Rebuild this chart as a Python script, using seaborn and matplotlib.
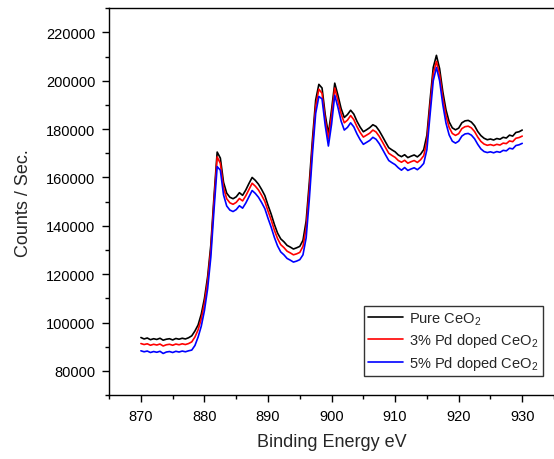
import numpy as np
import pandas as pd
import matplotlib
matplotlib.use("Agg")
import matplotlib.pyplot as plt
from matplotlib.ticker import MultipleLocator
import seaborn as sns

energy = np.arange(870.0, 930.001, 0.5)

pure = [93800, 93200, 93600, 92900, 93300, 93000, 93500, 92700, 93100, 93300,
        92800, 93400, 93100, 93500, 93200, 93700, 94500, 96500, 99000, 103500,
        110000, 119000, 132000, 152000, 170500, 168000, 158000, 153500, 151800, 151200,
        152000, 153700, 152600, 154800, 157500, 160000, 158800, 157200, 155000, 152500,
        148500, 144800, 140600, 137000, 134600, 133400, 131900, 131200, 130400, 130900,
        131500, 134000, 142000, 158000, 176000, 192000, 198500, 197000, 186000, 178000,
        188000, 199000, 194000, 188500, 184800, 186000, 187800, 186200, 183200, 180800,
        178900, 179700, 180600, 181800, 181100, 179300, 177000, 174600, 172300, 171400,
        170600, 169300, 168600, 169400, 168200, 168800, 169300, 168500, 169600, 171500,
        177500, 192000, 205500, 210500, 205000, 195500, 188000, 183000, 180500, 179700,
        180400, 182600, 183400, 183600, 182900, 181400, 179000, 177300, 176200, 175600,
        175900, 175500, 176100, 175800, 176600, 176300, 177500, 177100, 178600, 178900,
        179600]

pd3 = [91300, 90900, 91200, 90600, 91000, 90700, 91100, 90300, 90800, 91000,
       90600, 91100, 90800, 91200, 90900, 91300, 92000, 94000, 97000, 101500,
       108000, 117000, 130000, 150000, 168500, 165800, 155800, 151200, 149500, 148900,
       149700, 151300, 150300, 152400, 155000, 157600, 156400, 154800, 152600, 150100,
       146100, 142400, 138200, 134700, 132200, 131000, 129500, 128800, 128000, 128400,
       129000, 131500, 139000, 155000, 173500, 189500, 196500, 194800, 183800, 175900,
       185500, 197000, 191800, 186300, 182600, 183700, 185600, 183900, 181000, 178600,
       176700, 177500, 178300, 179600, 178800, 177000, 174700, 172300, 170000, 169100,
       168300, 167000, 166300, 167100, 165900, 166500, 167000, 166200, 167300, 169000,
       175000, 189500, 203000, 208000, 202500, 193000, 185600, 180700, 178200, 177400,
       178100, 180200, 181000, 181200, 180500, 179000, 176700, 174900, 173800, 173300,
       173600, 173200, 173700, 173400, 174200, 174000, 175100, 174800, 176200, 176500,
       177100]

pd5 = [88300, 87900, 88200, 87600, 88000, 87700, 88100, 87200, 87800, 88000,
       87600, 88100, 87800, 88200, 87900, 88300, 88600, 90500, 94000, 98500,
       105000, 114000, 127000, 146500, 164500, 163000, 152800, 148200, 146500, 145900,
       146700, 148300, 147300, 149400, 152000, 154600, 153400, 151800, 149600, 147100,
       143100, 139400, 135200, 131700, 129200, 128000, 126500, 125800, 125000, 125400,
       126000, 128000, 135000, 151000, 170000, 186500, 193500, 192500, 181500, 173000,
       182000, 194000, 189000, 183300, 179600, 180700, 182600, 180900, 178000, 175600,
       173700, 174500, 175300, 176600, 175800, 174000, 171700, 169300, 167000, 166100,
       165300, 164000, 163000, 164100, 162900, 163500, 164000, 163200, 164300, 165800,
       171500, 186000, 200000, 205500, 200000, 190200, 182500, 177600, 175000, 174200,
       175000, 177100, 178000, 178200, 177500, 176000, 173700, 171800, 170700, 170300,
       170600, 170200, 170700, 170400, 171200, 171000, 172100, 171800, 173200, 173500,
       174100]

labels = ["Pure CeO$_\\mathregular{2}$",
          "3% Pd doped CeO$_\\mathregular{2}$",
          "5% Pd doped CeO$_\\mathregular{2}$"]
colors = ["black", "red", "blue"]

df = pd.concat([
    pd.DataFrame({"Binding Energy eV": energy, "Counts / Sec.": vals, "Sample": lab})
    for vals, lab in zip([pure, pd3, pd5], labels)
], ignore_index=True)

sns.set_style("ticks")
plt.rcParams["font.family"] = ["Liberation Sans", "DejaVu Sans"]
plt.rcParams["mathtext.fontset"] = "custom"
plt.rcParams["mathtext.rm"] = "Liberation Sans"

fig = plt.figure(figsize=(5.54, 4.60), dpi=100)
ax = fig.add_axes([0.197, 0.139, 0.803, 0.841])

sns.lineplot(data=df, x="Binding Energy eV", y="Counts / Sec.", hue="Sample",
             palette=dict(zip(labels, colors)), linewidth=1.2, ax=ax,
             estimator=None, sort=False)

ax.set_xlim(865, 935)
ax.set_ylim(70000, 230000)
ax.xaxis.set_major_locator(MultipleLocator(10))
ax.xaxis.set_minor_locator(MultipleLocator(5))
ax.yaxis.set_major_locator(MultipleLocator(20000))
ax.yaxis.set_minor_locator(MultipleLocator(10000))
ax.tick_params(which="major", direction="out", length=5, width=1, labelsize=10.5,
               pad=5, colors="black")
ax.tick_params(which="minor", direction="out", length=3, width=1, colors="black")
ax.set_xlabel("Binding Energy eV", fontsize=13, labelpad=7)
ax.set_ylabel("Counts / Sec.", fontsize=13, labelpad=10)

for s in ["left", "bottom", "top"]:
    ax.spines[s].set_visible(True)
    ax.spines[s].set_color("black")
    ax.spines[s].set_linewidth(1.0)
ax.spines["right"].set_visible(False)

leg = ax.legend(loc="lower right", bbox_to_anchor=(0.975, 0.049), borderaxespad=0,
                fontsize=10.5, frameon=True, fancybox=False, edgecolor="black",
                handlelength=2.4, handletextpad=0.4, labelspacing=0.3, borderpad=0.3)
leg.get_frame().set_linewidth(1.0)
for line in leg.get_lines():
    line.set_linewidth(1.2)

fig.savefig("out.png", dpi=100)
